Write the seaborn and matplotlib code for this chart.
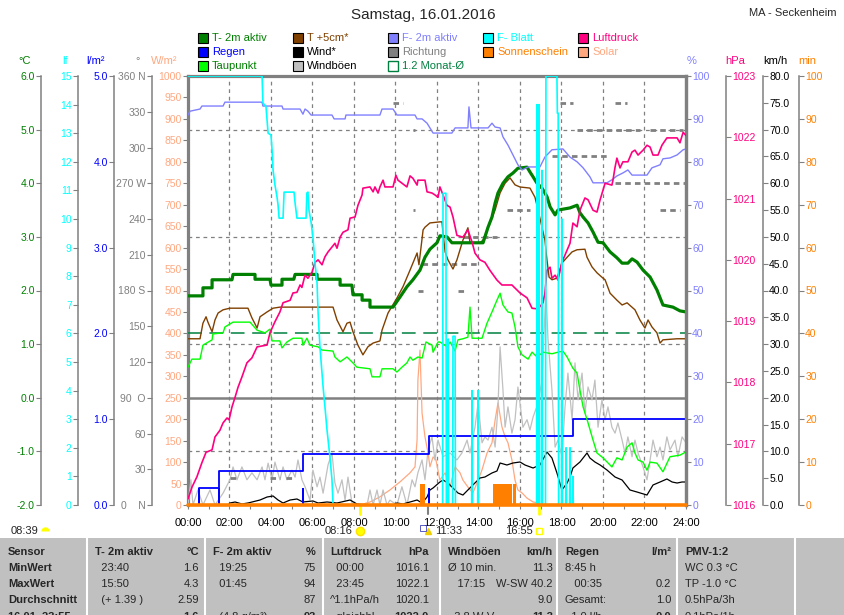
import matplotlib
matplotlib.use("Agg")
import matplotlib.pyplot as plt
import seaborn as sns
from matplotlib.markers import MarkerStyle
from matplotlib.patches import Rectangle

# (hour of day, value) pairs
t2m_aktiv = [
    (0, 1.9), (0.72, 1.9), (0.72, 2.05), (1.16, 2.05), (1.16, 2.2), (2.12, 2.2),
    (2.17, 2.3), (3.23, 2.3), (3.23, 2.21), (3.95, 2.21), (4.0, 2.1), (4.53, 2.1),
    (4.53, 2.21), (5.1, 2.21), (5.16, 2.3), (6.22, 2.3), (6.22, 2.21), (7.33, 2.21),
    (7.33, 2.1), (7.9, 2.1), (7.95, 1.92), (8.39, 1.92), (8.39, 1.82), (8.77, 1.82),
    (8.77, 1.69), (9.88, 1.69), (10.22, 1.88), (10.55, 2.07), (10.84, 2.2), (11.18, 2.38),
    (11.42, 2.62), (11.66, 2.77), (12.0, 2.89), (12.14, 3.02), (12.48, 3.0), (12.72, 2.89),
    (14.22, 2.89), (14.31, 3.0), (14.46, 3.18), (14.65, 3.37), (14.8, 3.63), (14.94, 3.82),
    (15.18, 4.0), (15.42, 4.12), (15.66, 4.19), (15.9, 4.28), (16.34, 4.3), (16.48, 4.21),
    (16.63, 4.12), (16.82, 4.0), (17.06, 3.91), (17.3, 3.75), (17.45, 3.56), (17.69, 3.41),
    (17.83, 3.5), (18.41, 3.54), (18.75, 3.59), (18.89, 3.45), (19.04, 3.37), (19.28, 3.26),
    (19.52, 3.09), (19.76, 2.9), (20.0, 2.89), (20.34, 2.72), (20.67, 2.61), (20.92, 2.51),
    (21.2, 2.51), (21.4, 2.59), (21.64, 2.53), (21.93, 2.38), (22.27, 2.25), (22.6, 2.01),
    (22.89, 1.73), (23.37, 1.69), (23.71, 1.62), (24.0, 1.6),
]

t_5cm = [
    (0, 1.10), (0.58, 1.10), (0.72, 1.39), (0.87, 1.51), (0.96, 1.41), (1.16, 1.23),
    (1.30, 1.45), (1.45, 1.58), (1.69, 1.64), (2.02, 1.67), (2.89, 1.67), (3.08, 1.49),
    (3.33, 1.30), (3.47, 1.51), (3.81, 1.60), (4.10, 1.67), (4.43, 1.69), (6.99, 1.69),
    (7.18, 1.45), (7.47, 1.23), (7.66, 1.39), (7.81, 1.41), (7.95, 1.23), (8.19, 0.98),
    (8.43, 0.80), (8.67, 0.95), (8.92, 1.02), (9.25, 1.06), (9.35, 1.26), (9.64, 1.58),
    (10.07, 1.86), (10.36, 2.07), (10.70, 2.38), (11.04, 2.70), (11.13, 2.48), (11.33, 3.13),
    (11.42, 3.18), (11.66, 3.26), (12.14, 3.28), (12.24, 3.28), (12.29, 3.07), (12.39, 2.72),
    (12.53, 2.57), (12.77, 2.40), (12.96, 2.57), (13.25, 2.94), (13.49, 3.17), (13.59, 2.89),
    (14.07, 2.89), (14.22, 2.94), (14.55, 3.26), (14.80, 3.50), (15.04, 3.82), (15.28, 4.0),
    (15.52, 4.10), (15.76, 3.97), (16.0, 3.93), (16.48, 3.91), (16.72, 3.74), (16.87, 3.50),
    (17.06, 3.18), (17.2, 2.94), (17.3, 2.57), (17.4, 2.25), (17.54, 2.20), (17.78, 2.23),
    (18.02, 2.51), (18.27, 2.62), (18.51, 2.72), (18.75, 2.76), (19.13, 2.77), (19.23, 2.62),
    (19.47, 2.44), (19.71, 2.33), (20.0, 2.23), (20.1, 2.20), (20.34, 1.95), (20.67, 1.82),
    (20.92, 1.73), (21.16, 1.77), (21.54, 1.64), (21.78, 1.45), (22.02, 1.30), (22.17, 1.45),
    (22.36, 1.32), (22.6, 1.21), (22.75, 1.02), (22.89, 1.08), (23.57, 1.10), (24, 1.10),
]

taupunkt = [
    (0, 0.57), (0.19, 0.72), (0.58, 0.72), (0.72, 0.98), (1.16, 1.08), (1.20, 1.19),
    (1.69, 1.21), (1.78, 1.32), (2.17, 1.41), (2.99, 1.41), (3.33, 1.26), (3.71, 1.21),
    (3.95, 1.28), (4.05, 1.06), (4.43, 1.06), (4.53, 0.93), (4.77, 1.04), (5.06, 1.11),
    (5.49, 1.11), (5.54, 0.98), (5.73, 1.11), (5.88, 0.98), (6.27, 0.95), (6.46, 0.89),
    (6.99, 0.87), (7.08, 0.76), (7.33, 0.67), (7.66, 0.76), (7.95, 0.65), (8.14, 0.57),
    (8.77, 0.54), (8.87, 0.39), (9.25, 0.39), (9.35, 0.54), (9.88, 0.54), (10.07, 0.48),
    (10.31, 0.57), (10.55, 0.65), (10.70, 0.76), (10.84, 0.70), (11.08, 0.76), (11.28, 0.74),
    (11.47, 1.04), (11.76, 0.98), (11.81, 0.85), (12.05, 1.04), (12.14, 1.04), (12.48, 0.95),
    (12.63, 1.04), (12.87, 0.87), (13.01, 1.08), (13.25, 1.10), (13.49, 1.13), (13.59, 1.69),
    (13.69, 1.11), (14.17, 1.11), (14.41, 1.39), (14.65, 1.60), (14.89, 1.82), (15.04, 1.95),
    (15.18, 1.73), (15.42, 1.60), (15.61, 1.58), (15.76, 1.32), (15.90, 0.95), (16.10, 0.80),
    (16.39, 0.72), (16.58, 0.85), (16.82, 0.76), (17.11, 0.85), (17.54, 0.82), (17.83, 0.85),
    (18.07, 0.87), (18.27, 0.76), (18.55, 0.55), (18.75, 0.46), (18.89, 0.14), (19.04, -0.17),
    (19.28, -0.47), (19.52, -0.79), (19.71, -1.03), (20.0, -1.12), (20.43, -1.29),
    (20.67, -1.12), (20.92, -1.16), (21.16, -0.92), (21.4, -0.84), (21.54, -1.03),
    (21.69, -1.16), (21.93, -1.20), (22.12, -1.35), (22.27, -1.20), (22.6, -1.22),
    (22.89, -1.38), (23.23, -1.10), (23.71, -1.07), (24, -1.01),
]

f2m_aktiv = [
    (0, 90.9), (0.1, 91.8), (0.58, 92.3), (0.67, 93.0), (1.69, 93.0), (1.78, 93.9),
    (3.57, 93.9), (3.61, 93.0), (4.53, 93.0), (4.58, 92.3), (5.4, 92.3), (5.54, 91.1),
    (5.64, 92.3), (5.78, 91.8), (5.93, 90.9), (6.94, 90.9), (7.04, 90.0), (7.57, 90.0),
    (7.61, 90.9), (9.25, 90.9), (9.35, 92.3), (9.88, 92.3), (10.07, 90.9), (10.94, 90.9),
    (11.04, 90.0), (11.28, 90.0), (11.52, 89.0), (11.66, 87.9), (11.81, 86.7), (12.72, 86.7),
    (12.87, 87.9), (13.49, 87.9), (13.54, 92.8), (13.64, 87.9), (14.46, 87.9), (14.65, 89.0),
    (14.8, 88.1), (15.04, 87.9), (15.18, 85.8), (15.42, 83.9), (15.66, 81.6), (15.9, 79.3),
    (16.1, 78.1), (16.39, 78.8), (16.96, 78.8), (17.2, 81.1), (17.54, 82.8), (18.07, 83.0),
    (18.41, 81.1), (18.75, 80.0), (19.04, 78.6), (19.37, 76.5), (19.52, 75.1), (20.19, 75.1),
    (20.43, 75.8), (20.67, 76.7), (20.96, 77.4), (21.2, 78.1), (21.4, 76.9), (22.12, 76.9),
    (22.36, 78.6), (22.75, 79.3), (22.89, 80.7), (23.23, 80.9), (23.57, 81.6), (23.86, 82.8),
    (24, 83.0),
]

f_blatt = [
    (0, 15), (3.57, 15), (3.61, 14.06), (3.76, 13.92), (3.81, 13.46), (3.86, 13.0),
    (4.0, 12.94), (4.05, 12.41), (4.10, 11.71), (4.19, 11.19), (4.29, 10.77), (4.34, 10.49),
    (4.39, 10.03), (4.58, 10.03), (4.63, 10.94), (5.11, 10.94), (5.16, 10.56), (5.25, 10.03),
    (5.69, 10.03), (5.73, 10.91), (5.78, 10.94), (5.83, 10.31), (5.93, 9.90), (6.02, 9.37),
    (6.07, 8.92), (6.12, 8.46), (6.22, 7.76), (6.27, 6.71), (6.36, 5.52), (6.51, 4.13),
    (6.60, 3.43), (6.70, 2.62), (6.84, 1.68), (6.94, 0.87), (6.99, 0),
    (12.27, 0), (12.29, 10.9), (12.43, 10.9), (12.45, 0), (12.53, 0), (12.54, 5.8),
    (12.56, 0), (12.75, 0), (12.77, 5.9), (12.87, 5.9), (12.89, 0), (13.67, 0), (13.69, 4.0),
    (13.71, 0), (13.96, 0), (13.98, 4.0), (14.0, 0), (16.8, 0), (16.82, 14.0), (16.84, 0),
    (16.9, 0), (16.92, 14.0), (16.94, 0), (17.04, 0), (17.06, 11.7), (17.08, 0), (17.23, 0),
    (17.25, 15), (17.78, 15), (17.80, 13.7), (17.84, 13.7), (17.86, 0), (18.0, 0),
    (18.02, 10.0), (18.04, 0), (18.2, 0), (18.22, 2.0), (18.24, 0), (18.39, 0), (18.41, 2.0),
    (18.43, 0), (18.53, 0), (18.55, 1.0), (18.57, 0), (24, 0),
]

luftdruck = [
    (0, 1016.1), (0.19, 1016.29), (0.43, 1016.46), (0.67, 1016.69), (0.87, 1016.86),
    (1.16, 1016.90), (1.30, 1017.11), (1.54, 1017.22), (1.69, 1017.34), (1.88, 1017.42),
    (1.98, 1017.39), (2.12, 1017.60), (2.27, 1017.76), (2.41, 1017.92), (2.60, 1018.09),
    (2.84, 1018.32), (3.08, 1018.40), (3.33, 1018.58), (3.81, 1018.61), (3.95, 1018.81),
    (4.19, 1018.99), (4.43, 1019.15), (4.58, 1019.30), (4.92, 1019.34), (5.06, 1019.46),
    (5.25, 1019.47), (5.40, 1019.59), (5.49, 1019.55), (5.64, 1019.75), (5.78, 1019.70),
    (5.98, 1019.80), (6.12, 1019.96), (6.27, 1020.0), (6.46, 1019.92), (6.60, 1020.05),
    (6.75, 1020.13), (6.94, 1020.21), (7.08, 1020.27), (7.18, 1020.19), (7.33, 1020.37),
    (7.47, 1020.45), (7.71, 1020.49), (7.81, 1020.68), (8.05, 1020.70), (8.19, 1020.89),
    (8.39, 1021.06), (8.43, 1021.17), (8.77, 1021.19), (8.92, 1021.11), (9.01, 1021.19),
    (9.16, 1021.09), (9.25, 1021.19), (9.40, 1021.30), (9.49, 1021.19), (9.88, 1021.19),
    (10.02, 1021.38), (10.12, 1021.30), (10.55, 1021.19), (10.70, 1021.37), (10.84, 1021.33),
    (11.04, 1021.22), (11.08, 1021.30), (11.42, 1021.30), (11.52, 1021.11), (11.76, 1021.09),
    (11.90, 1021.06), (12.05, 1021.02), (12.14, 1021.19), (12.29, 1021.06), (12.48, 1020.89),
    (12.63, 1020.86), (12.77, 1020.70), (12.96, 1020.40), (13.25, 1020.37), (13.49, 1020.49),
    (13.69, 1020.29), (13.83, 1020.11), (14.07, 1020.0), (14.31, 1019.96), (14.55, 1019.83),
    (14.89, 1019.67), (15.13, 1019.59), (15.61, 1019.59), (16.0, 1019.46), (16.34, 1019.38),
    (16.58, 1019.21), (16.87, 1019.20), (17.11, 1019.30), (17.2, 1019.46), (17.3, 1019.83),
    (17.45, 1019.88), (17.54, 1019.70), (17.69, 1019.75), (17.83, 1019.67), (18.02, 1019.96),
    (18.27, 1020.16), (18.41, 1020.27), (18.55, 1020.60), (18.75, 1020.54), (18.89, 1020.81),
    (19.13, 1021.01), (19.28, 1020.98), (19.52, 1020.81), (19.71, 1020.78), (19.86, 1020.98),
    (20.10, 1021.25), (20.43, 1021.22), (20.48, 1021.30), (20.58, 1021.51), (20.67, 1021.66),
    (20.82, 1021.50), (20.96, 1021.60), (21.20, 1021.60), (21.40, 1021.76), (21.54, 1021.79),
    (21.69, 1021.71), (21.93, 1021.79), (22.12, 1021.87), (22.27, 1021.84), (22.41, 1021.71),
    (22.65, 1021.71), (22.84, 1021.87), (23.08, 1021.99), (23.57, 1021.99), (23.71, 1021.91),
    (23.86, 1022.08), (24, 1022.03),
]

# rain: cumulative total and per-interval amount
regen_hours = [0.55, 1.49, 5.54, 11.61, 18.55, 24]
regen_total = [0.2, 0.4, 0.6, 0.8, 1.0, 1.0]
regen_event_hours = [0.55, 1.49, 5.54, 11.61, 18.55]
regen_event_amount = [0.2, 0.2, 0.2, 0.2, 0.2]

wind = [
    (0, 0), (1.95, 0), (2.02, 0.37), (2.27, 0.56), (2.6, 0.19), (2.89, 0.37), (3.47, 0.93),
    (3.81, 1.49), (4.10, 1.68), (4.34, 0.93), (4.58, 0.37), (4.92, 0.93), (5.25, 1.12),
    (5.54, 0.56), (6.02, 0.75), (6.27, 0.37), (6.70, 0.56), (7.18, 0.37), (7.81, 0.93),
    (8.14, 0.19), (8.6, 0), (9.88, 0), (10.07, 0.37), (10.36, 0.19), (10.70, 0.56),
    (11.04, 0.93), (11.28, 0.37), (11.52, 1.49), (11.66, 2.80), (11.81, 3.17), (12.14, 4.29),
    (12.29, 4.66), (12.53, 4.10), (12.77, 3.17), (13.01, 2.24), (13.25, 1.86), (13.49, 2.80),
    (13.73, 3.73), (14.07, 5.03), (14.31, 5.22), (14.65, 5.97), (14.89, 6.34), (15.04, 7.83),
    (15.37, 7.46), (15.66, 7.83), (16.0, 8.02), (16.24, 7.46), (16.63, 6.90), (16.96, 7.46),
    (17.30, 9.88), (17.54, 8.76), (17.78, 5.97), (18.02, 2.80), (18.27, 4.10), (18.41, 5.22),
    (18.55, 6.90), (18.89, 8.02), (19.23, 9.70), (19.37, 8.76), (19.61, 8.02), (19.86, 7.46),
    (20.19, 6.53), (20.58, 5.22), (20.92, 4.66), (21.30, 2.80), (21.64, 2.42), (22.12, 1.86),
    (22.41, 3.73), (22.75, 4.29), (23.08, 4.85), (23.33, 4.29), (23.57, 4.10), (23.81, 4.29),
    (24.0, 4.29),
]

windboeen = [
    (0, 0), (0.14, 4.7), (0.24, 0), (0.48, 2.8), (0.72, 0), (1.06, 2.8), (1.30, 0),
    (1.69, 2.2), (2.02, 4.7), (2.17, 7.1), (2.36, 4.7), (2.60, 7.1), (2.84, 4.7), (3.08, 6.0),
    (3.33, 4.7), (3.57, 7.1), (3.71, 4.7), (3.86, 7.8), (4.05, 4.7), (4.19, 8.0), (4.43, 4.7),
    (4.58, 7.1), (4.77, 4.7), (5.01, 6.5), (5.16, 5.2), (5.30, 8.4), (5.49, 4.7), (5.64, 3.4),
    (5.88, 0.9), (6.02, 6.5), (6.22, 3.4), (6.36, 5.2), (6.51, 2.2), (6.75, 7.5), (6.94, 9.7),
    (7.08, 4.1), (7.23, 2.2), (7.42, 4.7), (7.57, 0.9), (7.71, 5.2), (7.90, 0.4), (8.14, 0),
    (8.63, 0), (8.77, 2.8), (8.92, 0), (9.11, 2.8), (9.25, 0), (9.40, 2.8), (9.59, 0),
    (9.73, 0.9), (10.07, 0), (10.31, 3.4), (10.55, 0), (10.80, 4.7), (10.94, 3.4), (11.08, 6.0),
    (11.28, 8.4), (11.42, 4.7), (11.57, 10.3), (11.76, 12.7), (11.90, 8.4), (12.05, 12.1),
    (12.19, 10.3), (12.29, 9.0), (12.63, 9.7), (12.96, 8.4), (13.20, 9.7), (13.45, 12.1),
    (13.59, 9.7), (13.83, 14.5), (13.98, 19.0), (14.17, 11.6), (14.31, 12.7), (14.46, 12.1),
    (14.65, 14.5), (14.80, 10.8), (14.94, 18.3), (15.04, 29.5), (15.18, 21.4), (15.28, 14.5),
    (15.42, 18.3), (15.61, 13.4), (15.76, 15.9), (15.90, 22.0), (16.0, 19.0), (16.14, 14.5),
    (16.34, 15.9), (16.48, 14.0), (16.63, 16.4), (16.87, 19.0), (17.06, 23.3), (17.25, 40.2),
    (17.35, 30.8), (17.54, 21.4), (17.69, 10.8), (17.83, 12.1), (18.02, 9.0), (18.17, 18.3),
    (18.31, 24.6), (18.51, 15.9), (18.65, 26.5), (18.80, 19.6), (18.99, 24.6), (19.13, 17.2),
    (19.28, 22.0), (19.47, 19.6), (19.61, 23.3), (19.76, 14.5), (19.95, 19.6), (20.10, 15.9),
    (20.24, 18.3), (20.43, 14.5), (20.58, 13.4), (20.72, 15.3), (20.92, 12.1), (21.06, 9.7),
    (21.20, 12.7), (21.40, 9.0), (21.54, 12.1), (21.69, 9.7), (21.93, 7.1), (22.12, 4.7),
    (22.27, 8.4), (22.41, 12.1), (22.60, 9.0), (22.75, 10.8), (22.89, 8.4), (23.08, 12.7),
    (23.23, 10.3), (23.47, 12.1), (23.61, 9.0), (23.81, 12.7), (24.0, 11.6),
]

solar = [
    (8.29, 0), (8.77, 7), (9.25, 19), (9.73, 35), (10.22, 54), (10.70, 75), (10.94, 89),
    (11.04, 152), (11.08, 291), (11.18, 361), (11.28, 214), (11.42, 159), (11.57, 121),
    (11.66, 89), (11.81, 112), (11.95, 105), (12.14, 58), (12.39, 75), (12.63, 42),
    (12.87, 89), (13.11, 75), (13.25, 58), (13.49, 42), (13.73, 28), (13.98, 58), (14.17, 82),
    (14.41, 121), (14.65, 145), (14.80, 198), (14.94, 238), (15.13, 182), (15.28, 159),
    (15.42, 145), (15.61, 105), (15.76, 58), (15.90, 35), (16.10, 28), (16.34, 16),
    (16.63, 7), (16.87, 5), (16.96, 0),
]

# sunshine minutes per interval
sonne_start = [11.17, 14.70, 15.66]
sonne_end = [11.42, 15.61, 15.81]
sonne_minutes = [5, 5, 5]

# wind direction segments (start hour, end hour, degrees)
richtung_start = [2.02, 3.95, 4.72, 9.88, 10.84, 10.84, 11.08, 11.28, 13.0, 13.25, 15.37,
                  17.54, 17.93, 18.75, 20.58, 20.58, 22.27, 22.75]
richtung_end = [2.36, 4.43, 5.01, 10.36, 10.94, 10.94, 11.33, 14.07, 13.45, 14.89, 16.48,
                20.34, 18.55, 21.78, 21.16, 24.0, 23.86, 23.71]
richtung_deg = [22.5, 22.5, 22.5, 337.5, 315, 247.5, 180, 202.5, 180, 225, 247.5,
                292.5, 337.5, 315, 337.5, 270, 315, 247.5]

monat_mittel = 1.2

sunrise, sunnoon, sunset = 8.27, 11.55, 16.92

table_first = ["Sensor", "MinWert", "MaxWert", "Durchschnitt", "16.01. 23:55"]
table_left = [
    ["T- 2m aktiv", "  23:40", "  15:50", "  (+ 1.39 )", ""],
    ["F- 2m aktiv", "  19:25", "  01:45", "", "  (4.8 g/m³)"],
    ["Luftdruck", "  00:00", "  23:45", "^1.1hPa/h", "  gleichbl."],
    ["Windböen", "Ø 10 min.", "   17:15", "", "  3.8 W-V"],
    ["Regen", "8:45 h", "   00:35", "Gesamt:", "  1.0 l/h"],
    ["PMV-1:2", "WC 0.3 °C", "TP -1.0 °C", "0.5hPa/3h", "0.1hPa/1h"],
]
table_right = [
    ["°C", "1.6", "4.3", "2.59", "1.6"],
    ["%", "75", "94", "87", "93"],
    ["hPa", "1016.1", "1022.1", "1020.1", "1022.0"],
    ["km/h", "11.3", "W-SW 40.2", "9.0", "11.3"],
    ["l/m²", "", "0.2", "1.0", "0.0"],
]

W, H = 845, 615
GRAY = "#808080"
C_T2M, C_T5, C_TAU = "#008000", "#804000", "#00ff00"
C_F2M, C_BLATT, C_DRUCK = "#8080ff", "#00ffff", "#ff0080"
C_REGEN, C_SONNE, C_SOLAR, C_BOE = "#0000ff", "#ff8000", "#ffa880", "#c0c0c0"
C_MONAT = "#008040"


def fx(px):
    return px / W


def fy(py):
    return 1 - py / H


def line(axis, pairs, color, lw, **kw):
    hrs = [p[0] for p in pairs]
    vals = [p[1] for p in pairs]
    sns.lineplot(x=hrs, y=vals, ax=axis, color=color, linewidth=lw,
                 estimator=None, sort=False, legend=False, **kw)


def y_axis(axis, side, pos, lim, ticks, labels, color, spine_lw=1.1):
    axis.set_ylim(*lim)
    for name, sp in axis.spines.items():
        sp.set_visible(name == side)
    sp = axis.spines[side]
    sp.set_position(("axes", pos))
    sp.set_color(GRAY)
    sp.set_linewidth(spine_lw)
    axis.yaxis.set_ticks_position(side)
    axis.set_yticks(ticks)
    axis.set_yticklabels(labels)
    axis.tick_params(axis="y", which="major", direction="out", length=3.5, width=0.8,
                     color=GRAY, labelcolor=color, labelsize=7.5, pad=1)
    axis.set_ylabel("")


sns.set_theme(style="white")
plt.rcParams["font.family"] = ["Liberation Sans", "DejaVu Sans"]
plt.rcParams["axes.unicode_minus"] = False

fig = plt.figure(figsize=(W / 100, H / 100), dpi=100)
fig.patch.set_facecolor("white")
ax = fig.add_axes([fx(188), fy(505), (686 - 188) / W, (505 - 76) / H])
ax.set_facecolor("white")

# grid (on the W/m² scale, matches odd °C values)
for v in [125, 375, 625, 875]:
    ax.axhline(v, color=GRAY, lw=0.9, ls=(0, (3, 3)))
ax.axhline(250, color=GRAY, lw=1.8)
for h in range(2, 24, 2):
    ax.axvline(h, color=GRAY, lw=0.9, ls=(0, (3, 3)))

line(ax, solar, C_SOLAR, 0.9)

ax_kmh = ax.twinx()
line(ax_kmh, windboeen, C_BOE, 0.9)
line(ax_kmh, wind, "black", 0.9)

ax_rain = ax.twinx()
sns.lineplot(x=regen_hours, y=regen_total, ax=ax_rain, color=C_REGEN, linewidth=1.3,
             estimator=None, sort=False, legend=False, drawstyle="steps-post")
ax_rain.bar(regen_event_hours, regen_event_amount, width=0.1, color=C_REGEN, linewidth=0)

ax_dir = ax.twinx()
ax_dir.hlines(richtung_deg, richtung_start, richtung_end, colors=GRAY, linewidth=2,
              linestyles=(0, (2, 1.5)))

ax_c = ax.twinx()
ax_c.axhline(monat_mittel, color=C_MONAT, lw=1.1, ls=(0, (9, 5)))
line(ax_c, taupunkt, C_TAU, 1.0)
line(ax_c, t_5cm, C_T5, 1.0)
line(ax_c, t2m_aktiv, C_T2M, 2.3)

ax_pct = ax.twinx()
line(ax_pct, f2m_aktiv, C_F2M, 1.0)

ax_hpa = ax.twinx()
line(ax_hpa, luftdruck, C_DRUCK, 1.2)

ax_lf = ax.twinx()
line(ax_lf, f_blatt, C_BLATT, 1.2)

ax_min = ax.twinx()
ax_min.bar(sonne_start, sonne_minutes, width=[e - s for s, e in zip(sonne_start, sonne_end)],
           align="edge", color=C_SONNE, linewidth=0)
ax_min.axhline(0, color=C_SONNE, lw=2.6, clip_on=False)

# axes scales
y_axis(ax, "left", 0, (0, 1000), list(range(0, 1001, 50)),
       [str(v) for v in range(0, 1001, 50)], C_SOLAR, spine_lw=2.3)
for s in ["top", "right"]:
    ax.spines[s].set_visible(True)
    ax.spines[s].set_color(GRAY)
    ax.spines[s].set_linewidth(2.3)
ax.spines["bottom"].set_visible(False)

y_axis(ax_c, "left", (41 - 188) / 498, (-2, 6), [-2, -1, 0, 1, 2, 3, 4, 5, 6],
       [f"{v:.1f}" for v in range(-2, 7)], C_T2M)
y_axis(ax_lf, "left", (78 - 188) / 498, (0, 15), list(range(16)),
       [str(v) for v in range(16)], C_BLATT)
y_axis(ax_rain, "left", (114 - 188) / 498, (0, 5), list(range(6)),
       [f"{v:.1f}" for v in range(6)], C_REGEN)
dir_labels = ["0    N", "30", "60", "90  O", "120", "150", "180 S", "210", "240",
              "270 W", "300", "330", "360 N"]
y_axis(ax_dir, "left", (152 - 188) / 498, (0, 360), list(range(0, 361, 30)),
       dir_labels, GRAY)
y_axis(ax_pct, "right", 1.0, (0, 100), list(range(0, 101, 10)),
       [str(v) for v in range(0, 101, 10)], C_F2M, spine_lw=2.3)
y_axis(ax_hpa, "right", 1 + 40 / 498, (1016, 1023), list(range(1016, 1024)),
       [str(v) for v in range(1016, 1024)], C_DRUCK)
y_axis(ax_kmh, "right", 1 + 77 / 498, (0, 80), list(range(0, 81, 5)),
       [f"{v:.1f}" for v in range(0, 81, 5)], "black")
y_axis(ax_min, "right", 1 + 113 / 498, (0, 100), list(range(0, 101, 10)),
       [str(v) for v in range(0, 101, 10)], C_SONNE)

ax.set_xlim(0, 24)
ax.set_xticks(list(range(0, 25, 2)))
ax.set_xticklabels([f"{h:02d}:00" for h in range(0, 25, 2)])
ax.set_xticks(list(range(0, 25)), minor=True)
ax.tick_params(axis="x", which="both", direction="out", length=3, width=0.8,
               color=GRAY, labelcolor="black", labelsize=8, pad=6, bottom=True)
ax.set_xlabel("")

# sunrise / solar noon / sunset
xt = ax.get_xaxis_transform()
ax.plot([sunrise, sunrise], [0, -0.02], color="#ffff00", lw=2, transform=xt, clip_on=False)
ax.plot([sunset, sunset], [0, -0.02], color="#ffff00", lw=2, transform=xt, clip_on=False)
ax.plot([sunnoon, sunnoon], [0, -0.02], color=GRAY, lw=1.5, transform=xt, clip_on=False)
ax.plot(sunrise, -0.061, marker="o", ms=6, color="#ffff00", mec="#ffe000",
        transform=xt, clip_on=False)
ax.plot(sunnoon, -0.061, marker="^", ms=5, color="#f0d000", transform=xt, clip_on=False)
ax.plot(sunnoon - 0.22, -0.054, marker="s", ms=5, mfc="none", mec="#4040c0", mew=0.6,
        transform=xt, clip_on=False)
ax.plot(sunset, -0.061, marker="s", ms=5, mfc="none", mec="#ffff00", mew=1,
        transform=xt, clip_on=False)
fig.text(fx(353), fy(531), "08:16", ha="right", va="center", fontsize=8)
fig.text(fx(435), fy(531), "11:33", ha="left", va="center", fontsize=8)
fig.text(fx(533), fy(531), "16:55", ha="right", va="center", fontsize=8)
fig.text(fx(11), fy(531), "08:39", ha="left", va="center", fontsize=8)
fig.lines.append(plt.Line2D([fx(45)], [fy(531)], marker=MarkerStyle("o", fillstyle="top"),
                            ms=6, color="#ffff00", mfc="#ffff00", mfcalt="none", mew=0,
                            transform=fig.transFigure))

# title and station
fig.text(fx(423), fy(15), "Samstag, 16.01.2016", ha="center", va="center", fontsize=11)
fig.text(fx(837), fy(13), "MA - Seckenheim", ha="right", va="center", fontsize=8)

# axis headers
headers = [("°C", 25, C_T2M), ("lf", 65, C_BLATT), ("l/m²", 96, C_REGEN), ("°", 138, GRAY),
           ("W/m²", 164, C_SOLAR), ("%", 692, C_F2M), ("hPa", 735, C_DRUCK),
           ("km/h", 775, "black"), ("min", 807, C_SONNE)]
for txt, px, col in headers:
    fig.text(fx(px), fy(61), txt, ha="center", va="center", fontsize=8, color=col)

# legend
legend_items = [
    ("T- 2m aktiv", C_T2M, C_T2M, 198, 38), ("T +5cm*", C_T5, C_T5, 293, 38),
    ("F- 2m aktiv", C_F2M, C_F2M, 388, 38), ("F- Blatt", C_BLATT, C_BLATT, 483, 38),
    ("Luftdruck", C_DRUCK, C_DRUCK, 578, 38),
    ("Regen", C_REGEN, C_REGEN, 198, 52), ("Wind*", "black", "black", 293, 52),
    ("Richtung", GRAY, GRAY, 388, 52), ("Sonnenschein", C_SONNE, C_SONNE, 483, 52),
    ("Solar", C_SOLAR, C_SOLAR, 578, 52),
    ("Taupunkt", C_TAU, C_T2M, 198, 66), ("Windböen", C_BOE, "black", 293, 66),
]
for txt, fill, tcol, px, py in legend_items:
    fig.patches.append(Rectangle((fx(px), fy(py + 5)), 10 / W, 10 / H, facecolor=fill,
                                 edgecolor="black", lw=0.8, transform=fig.transFigure))
    fig.text(fx(px + 14), fy(py), txt, ha="left", va="center", fontsize=8, color=tcol)
fig.patches.append(Rectangle((fx(388), fy(71)), 10 / W, 10 / H, facecolor="white",
                             edgecolor=C_MONAT, lw=1.0, transform=fig.transFigure))
fig.text(fx(402), fy(66), "1.2 Monat-Ø", ha="left", va="center", fontsize=8, color=C_MONAT)

# summary table (the last row is cut by the image edge, as in the original)
fig.patches.append(Rectangle((0, 0), 1, fy(538), facecolor="#c0c0c0", edgecolor="none",
                             transform=fig.transFigure, zorder=0))
for px in [87, 205, 323, 440, 557, 677, 795]:
    fig.lines.append(plt.Line2D([fx(px), fx(px)], [0, fy(538)], color="white", lw=1.5,
                                transform=fig.transFigure))
row_y = [552, 568, 584, 600, 617]
col_left = [95, 213, 330, 448, 565, 685]
col_right = [199, 316, 429, 553, 671]
for r, txt in enumerate(table_first):
    fig.text(fx(8), fy(row_y[r]), txt, ha="left", va="center", fontsize=8,
             fontweight="bold")
for c, col in enumerate(table_left):
    for r, txt in enumerate(col):
        fig.text(fx(col_left[c]), fy(row_y[r]), txt, ha="left", va="center", fontsize=8,
                 fontweight="bold" if r == 0 else "normal")
for c, col in enumerate(table_right):
    for r, txt in enumerate(col):
        fig.text(fx(col_right[c]), fy(row_y[r]), txt, ha="right", va="center", fontsize=8,
                 fontweight="bold" if r in (0, 4) else "normal")

fig.savefig("out.png", dpi=100)
